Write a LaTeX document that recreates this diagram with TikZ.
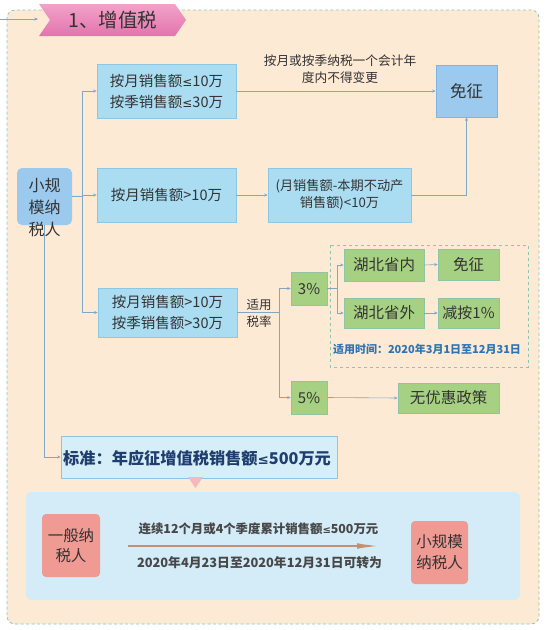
\documentclass[tikz,border=0pt]{standalone}
\usepackage{fontspec}
\setmainfont{Noto Sans CJK SC}
\newfontfamily\symf{DejaVu Sans}
\newcommand{\lesym}{{\symf\fontsize{0.85\dimexpr\fontdimen6\font\relax}{0}\selectfont ≤}}
\usetikzlibrary{arrows.meta}
\definecolor{outerfill}{HTML}{FCEAD4}
\definecolor{outerline}{HTML}{8CC7B0}
\definecolor{bfill}{HTML}{AADCF2}
\definecolor{bline}{HTML}{8CC8E4}
\definecolor{dfill}{HTML}{9CCAEE}
\definecolor{dline}{HTML}{7DB4E0}
\definecolor{gfill}{HTML}{A7D182}
\definecolor{gline}{HTML}{8FC4A6}
\definecolor{conn}{HTML}{7FA8C8}
\definecolor{txt}{HTML}{333333}
\definecolor{timeblue}{HTML}{2E74B5}
\definecolor{navy}{HTML}{1F3D6E}
\definecolor{stdfill}{HTML}{D6EEF8}
\definecolor{stdline}{HTML}{8EC5E0}
\definecolor{tri}{HTML}{F5B7C0}
\definecolor{botfill}{HTML}{D3ECF7}
\definecolor{salmon}{HTML}{F09A94}
\definecolor{brown}{HTML}{C49070}
\definecolor{pinkA}{HTML}{F2A2C8}
\definecolor{pinkB}{HTML}{E274AE}
\newcommand{\fs}[2]{\fontsize{#1}{#2}\selectfont}
\tikzset{
  x=1pt,y=-1pt,
  bluebox/.style={draw=bline,fill=bfill,line width=0.7pt,inner sep=0pt,align=center,text=txt},
  darkbox/.style={draw=dline,fill=dfill,line width=0.7pt,inner sep=0pt,align=center,text=txt},
  greenbox/.style={draw=gline,fill=gfill,line width=0.7pt,inner sep=0pt,align=center,text=txt},
  salbox/.style={fill=salmon,rounded corners=4pt,inner sep=0pt,align=center,text=txt},
  lbl/.style={inner sep=0pt,align=center,text=txt},
  link/.style={draw=conn,line width=0.6pt,-{Stealth[length=3.5pt,width=3pt]}},
  plain/.style={draw=conn,line width=0.6pt},
}
\begin{document}
\begin{tikzpicture}
\useasboundingbox (0,0) rectangle (554,630);
% outer frame
\draw[outerline,fill=outerfill,dash pattern=on 3pt off 2.5pt,line width=0.8pt,rounded corners=8pt] (7,10) rectangle (539,624);
% title banner
\shade[top color=pinkA,bottom color=pinkB] (39,4) -- (175,4) -- (186,20) -- (175,36) -- (39,36) -- (50,20) -- cycle;
\node[lbl,font=\fs{19.5}{22}] (title) at (113,20) {1、增值税};
\coordinate (tstart) at (0,19);
\coordinate (tend) at (38,19);
\draw[link] (tstart) -- (tend);

% nodes
\node[darkbox,draw=none,rounded corners=5pt,minimum width=55pt,minimum height=57pt] (xg) at (44.5,196.5) {};
\node[lbl,font=\fs{16}{22}] (xgt) at (44.5,208) {小规\\模纳\\税人};
\node[bluebox,minimum width=139pt,minimum height=54pt,font=\fs{14.5}{21}] (A) at (166.5,91) {按月销售额{\symf\fs{12}{21}≤}10万\\按季销售额{\symf\fs{12}{21}≤}30万};
\node[bluebox,minimum width=139pt,minimum height=54pt,font=\fs{14.5}{21}] (B) at (166.5,195) {按月销售额>10万};
\node[bluebox,minimum width=143pt,minimum height=54pt,font=\fs{13.2}{17}] (C) at (339.5,195) {(月销售额-本期不动产\\销售额)<10万};
\node[darkbox,minimum width=61pt,minimum height=52pt,font=\fs{16.5}{20}] (mz) at (466.5,91) {免征};
\node[lbl,font=\fs{12.7}{17}] (note) at (340,69.5) {按月或按季纳税一个会计年\\度内不得变更};
\node[bluebox,minimum width=139pt,minimum height=49pt,font=\fs{14.5}{21}] (D) at (167.5,312.5) {按月销售额>10万\\按季销售额>30万};
\node[lbl,font=\fs{12.5}{17}] (sl) at (259,313.5) {适用\\税率};
\node[greenbox,minimum width=36pt,minimum height=33pt,font=\fs{15}{18}] (p3) at (309,288.5) {3\%};
\node[greenbox,minimum width=36pt,minimum height=33pt,font=\fs{15}{18}] (p5) at (309,397.5) {5\%};
\node[greenbox,minimum width=101pt,minimum height=30pt,font=\fs{15.5}{18}] (wy) at (448.5,398) {无优惠政策};
\draw[outerline,dashed,line width=0.7pt] (330,245) rectangle (528,367);
\node[greenbox,minimum width=80pt,minimum height=32pt,font=\fs{15.5}{18}] (hn) at (384,265) {湖北省内};
\node[greenbox,minimum width=80pt,minimum height=30pt,font=\fs{15.5}{18}] (hw) at (384,313) {湖北省外};
\node[greenbox,minimum width=61pt,minimum height=31pt,font=\fs{15.5}{18}] (mz2) at (468.5,264.5) {免征};
\node[greenbox,minimum width=61pt,minimum height=30pt,font=\fs{15}{18}] (jc) at (468.5,313) {减按1\%};
\node[lbl,text=timeblue,font=\fs{11}{13}\bfseries] (time) at (427,349) {适用时间：2020年3月1日至12月31日};
\node[draw=stdline,fill=stdfill,line width=0.7pt,minimum width=276pt,minimum height=42pt,inner sep=0pt] (bz) at (199,457) {};
\node[lbl,text=navy,anchor=west,font=\fs{16.2}{20}\bfseries] (bzt) at (63,458) {标准：年应征增值税销售额{\symf\fs{13.5}{20}\bfseries ≤}500万元};
\fill[tri] (188,477) -- (203,477) -- (195.5,488) -- cycle;
\fill[botfill,rounded corners=5pt] (26,492) rectangle (520,600);
\node[salbox,minimum width=58pt,minimum height=63pt,font=\fs{15.5}{20.5}] (yb) at (71,545.5) {一般纳\\税人};
\node[salbox,minimum width=57pt,minimum height=63pt,font=\fs{15.5}{21}] (xg2) at (439.5,552.5) {小规模\\纳税人};
\coordinate (as) at (128,546);
\coordinate (ae) at (387,546);
\draw[brown,line width=2.6pt,-{Latex[length=30pt,width=5.5pt]}] (as) -- (ae);
\node[lbl,text=txt!90,font=\fs{12.4}{15}\bfseries] (t1) at (258.5,529) {连续12个月或4个季度累计销售额{\symf\fs{10}{15}≤}500万元};
\node[lbl,text=txt!90,font=\fs{12.8}{15}\bfseries] (t2) at (259.5,563) {2020年4月23日至2020年12月31日可转为};

% connectors
\coordinate (j1) at (82,196.5);
\coordinate (j1t) at (82,91);
\coordinate (j1b) at (82,312.5);
\draw[plain] (xg.east) -- (j1);
\draw[plain] (j1t) -- (j1b);
\draw[link] (j1t) -- (A.west);
\draw[link] (j1b) -- (D.west);
\draw[link] (j1 |- B.west) -- (B.west);
\draw[link] (A.east) -- (mz.west);
\draw[link] (B.east) -- (C.west);
\draw[link] (C.east) -| (mz.south);
\coordinate (j2) at (279,312.5);
\draw[plain] (D.east) -- (j2);
\draw[plain] (j2 |- p3.west) -- (j2 |- p5.west);
\draw[link] (j2 |- p3.west) -- (p3.west);
\draw[link] (j2 |- p5.west) -- (p5.west);
\coordinate (j3) at (337,288.5);
\draw[plain] (p3.east) -- (j3);
\draw[plain] (j3 |- hn.west) -- (j3 |- hw.west);
\draw[link] (j3 |- hn.west) -- (hn.west);
\draw[link] (j3 |- hw.west) -- (hw.west);
\draw[link] (hn.east) -- (mz2.west);
\draw[link] (hw.east) -- (jc.west);
\draw[link] (p5.east) -- (wy.west);
\draw[link] (xg.south) |- (bz.west);
\end{tikzpicture}
\end{document}
